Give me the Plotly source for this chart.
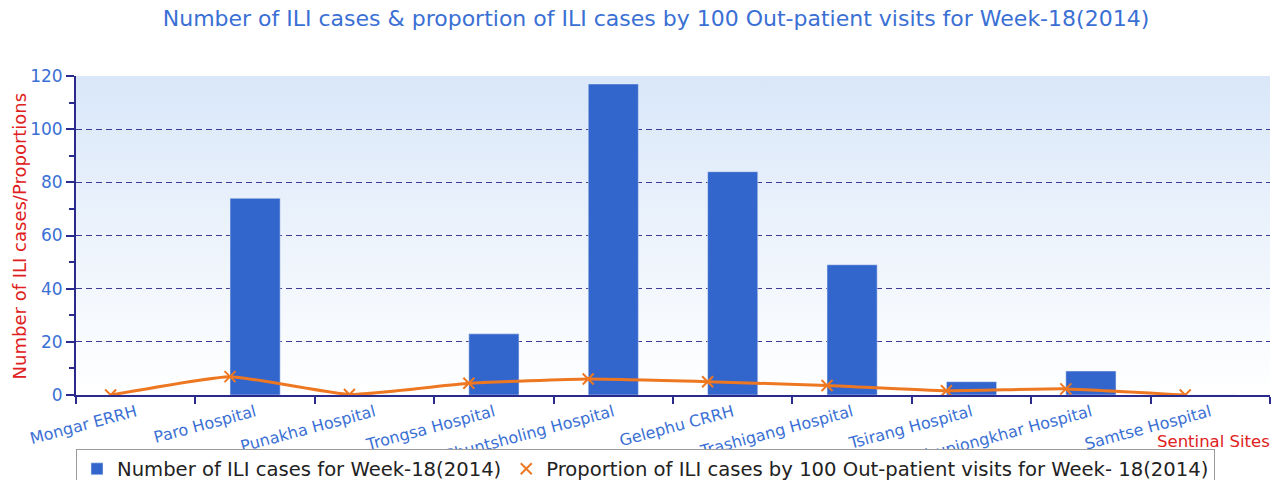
import base64
import plotly.graph_objects as go

sites = ["Mongar ERRH", "Paro Hospital", "Punakha Hospital", "Trongsa Hospital",
         "Phuntsholing Hospital", "Gelephu CRRH", "Trashigang Hospital",
         "Tsirang Hospital", "Samdrupjongkhar Hospital", "Samtse Hospital"]
ili_cases = [0, 74, 0, 23, 117, 84, 49, 5, 9, 0]
ili_proportion = [0, 6.9, 0.2, 4.4, 6.0, 5.0, 3.6, 1.6, 2.3, 0]
y_ticks = [0, 20, 40, 60, 80, 100, 120]

bar_width = 0.42
font = "DejaVu Sans"
blue_txt = "#3a70d4"
navy = "#2a2a8c"
orange = "#ee7722"

svg = ('<svg xmlns="http://www.w3.org/2000/svg" width="100" height="100" preserveAspectRatio="none">'
       '<defs><linearGradient id="g" x1="0" y1="0" x2="0" y2="1">'
       '<stop offset="0" stop-color="#d9e7f9"/><stop offset="1" stop-color="#ffffff"/>'
       '</linearGradient></defs><rect width="100" height="100" fill="url(#g)"/></svg>')
grad_src = "data:image/svg+xml;base64," + base64.b64encode(svg.encode()).decode()

fig = go.Figure()
fig.add_trace(go.Bar(
    x=sites, y=ili_cases, width=bar_width, marker_color="#3366cc",
    name="Number of ILI cases for Week-18(2014)",
))
idx = list(range(len(sites)))
fig.add_trace(go.Scatter(
    x=[i - bar_width / 2 for i in idx], y=ili_proportion, xaxis="x2",
    mode="lines+markers", line=dict(color=orange, width=3, shape="spline", smoothing=0.4),
    marker=dict(symbol="x-thin", size=11, line=dict(color=orange, width=2)),
    name="Proportion of ILI cases by 100 Out-patient visits for Week- 18(2014)",
    showlegend=False,
))
# legend proxy showing only the marker
fig.add_trace(go.Scatter(
    x=[None], y=[None], xaxis="x2", mode="markers",
    marker=dict(symbol="x-thin", size=11, line=dict(color=orange, width=2)),
    name="Proportion of ILI cases by 100 Out-patient visits for Week- 18(2014)",
))

fig.update_layout(
    width=1275, height=480,
    margin=dict(l=76, r=5, t=76, b=85, autoexpand=False),
    paper_bgcolor="white", plot_bgcolor="rgba(0,0,0,0)",
    font=dict(family=font),
    title=dict(text="Number of ILI cases & proportion of ILI cases by 100 Out-patient visits for Week-18(2014)",
               x=0.5145, xanchor="center", y=0.962, yanchor="middle",
               font=dict(family=font, size=22, color=blue_txt)),
    showlegend=True,
    legend=dict(orientation="h", x=0.0, xanchor="left", y=-0.168, yanchor="top",
                bordercolor="#9a9a9a", borderwidth=1, bgcolor="white",
                font=dict(family=font, size=19.6, color="#222222"),
                traceorder="normal"),
    xaxis=dict(type="category", range=[-0.5, len(sites) - 0.5], tickson="boundaries",
               ticks="outside", ticklen=7, tickcolor=navy, tickwidth=2, automargin=False,
               showline=True, linecolor=navy, linewidth=2, showgrid=False,
               tickangle=-15, tickfont=dict(family=font, size=16, color=blue_txt)),
    xaxis2=dict(overlaying="x", range=[-0.5, len(sites) - 0.5], visible=False),
    yaxis=dict(range=[0, 120], tickvals=y_ticks, ticks="outside", ticklen=8, tickcolor=navy,
               tickwidth=2, showline=True, linecolor=navy, linewidth=2, automargin=False,
               showgrid=True, gridcolor="#3c3c94", griddash="6px,4px", gridwidth=1.2,
               zeroline=False,
               tickfont=dict(family=font, size=17, color=blue_txt),
               minor=dict(dtick=10, ticks="outside", ticklen=5, tickcolor=navy, showgrid=False)),
    images=[dict(source=grad_src, xref="paper", yref="paper", x=0, y=1, sizex=1, sizey=1,
                 sizing="stretch", layer="below", xanchor="left", yanchor="top")],
    annotations=[
        dict(text="Number of ILI cases/Proportions", xref="paper", yref="paper",
             x=-0.047, y=0.5, textangle=-90, showarrow=False, xanchor="center", yanchor="middle",
             font=dict(family=font, size=18, color="#e02020")),
        dict(text="Sentinal Sites", xref="paper", yref="paper", x=1.002, y=-0.147,
             xanchor="right", yanchor="middle", showarrow=False,
             font=dict(family=font, size=16.5, color="#e02020")),
    ],
)

fig.write_html("out.html", config={"displayModeBar": False},
               post_script="document.body.style.margin='0';document.body.style.overflow='hidden';")
